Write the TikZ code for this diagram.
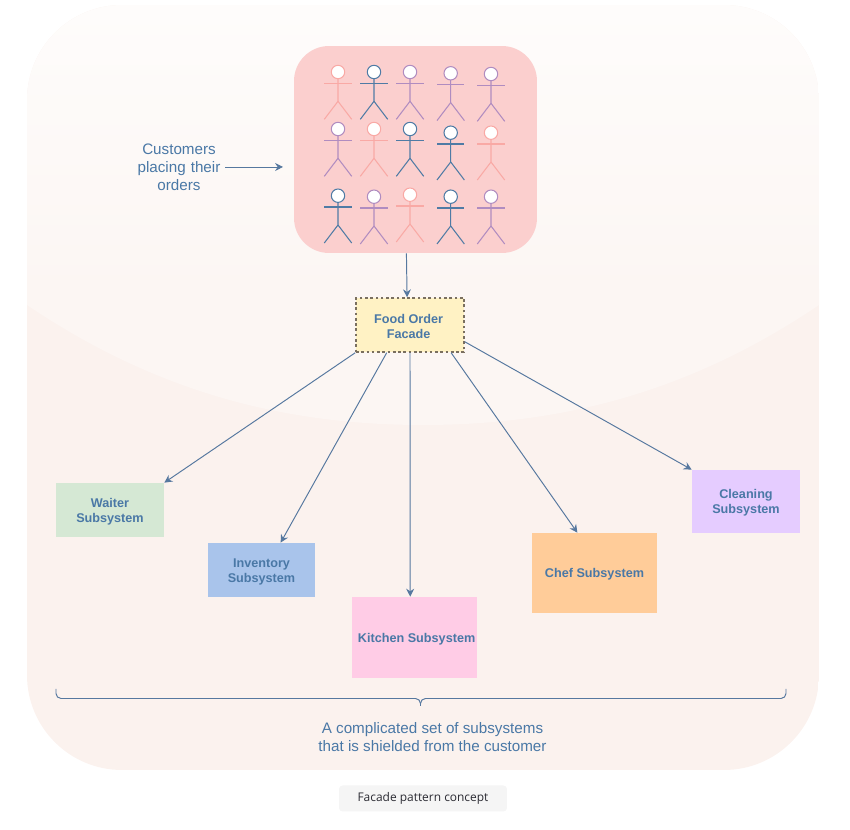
\documentclass[tikz,border=0pt]{standalone}
\usepackage{fontspec}
\setmainfont{Liberation Sans}
\newfontfamily\capfont{Open Sans}
\usetikzlibrary{arrows.meta,calc}
\definecolor{inkblue}{HTML}{4A78A6}
\definecolor{edgeblue}{HTML}{56789F}
\definecolor{salmon}{HTML}{F9A9A5}
\definecolor{steel}{HTML}{4F7BA5}
\definecolor{lilac}{HTML}{B08CC0}
\definecolor{backlow}{HTML}{FBF2EE}
\definecolor{backmid}{HTML}{FCF6F3}
\definecolor{backtop}{HTML}{FEFCFB}
\definecolor{crowdfill}{HTML}{FBCFCE}
\definecolor{facadefill}{HTML}{FFF2C4}
\definecolor{facadeedge}{HTML}{7A6F5F}
\definecolor{waiterfill}{HTML}{D5E8D4}
\definecolor{inventoryfill}{HTML}{A9C4EB}
\definecolor{kitchenfill}{HTML}{FFCCE6}
\definecolor{cheffill}{HTML}{FFCC99}
\definecolor{cleaningfill}{HTML}{E5CCFF}
\definecolor{capfill}{HTML}{F5F5F5}
\definecolor{capink}{HTML}{2B2B33}
\tikzset{
    flow/.style={-{Stealth[length=4.5pt,width=4.5pt]}, edgeblue, line width=0.55pt},
    subsys/.style={inner sep=0pt},
    boxtext/.style={inner sep=0pt, align=center, text=inkblue, yshift=-0.9pt, font=\fontsize{7.2}{8.5}\selectfont\bfseries},
    note/.style={inner sep=0pt, align=center, text=inkblue, font=\fontsize{8.65}{10.2}\selectfont},
    person/.pic={
        \draw[line width=0.6pt] (-13.7,11.3) -- (13.7,11.3);
        \draw[line width=0.6pt] (0,6.7) -- (0,29.3) -- (-13.7,47.3);
        \draw[line width=0.6pt] (0,29.3) -- (13.7,47.3);
        \draw[fill=white, line width=0.6pt] (0,0) circle (6.7);
    }
}
\begin{document}
\begin{tikzpicture}[x=0.02cm, y=-0.02cm]
    \useasboundingbox (0,0) rectangle (850,830);
    % Backdrop
    \begin{scope}
        \clip[rounded corners=1.9cm] (27,5) rectangle (819,770);
        \fill[backlow] (27,5) rectangle (819,770);
        \fill[backmid] (27,289) -- (27,305) .. controls (160,395) and (290,425) .. (423,425)
            .. controls (556,425) and (686,395) .. (819,305) -- (819,289) -- cycle;
        \foreach \band in {0,...,28}
            \pgfmathsetmacro{\mixval}{100-\band*100/28}
            \fill[backtop!\mixval!backmid] (27,5+\band*10) rectangle (819,15+\band*10);
    \end{scope}
    % Customers
    \node[fill=crowdfill, rounded corners=0.7cm, minimum width=4.86cm, minimum height=4.14cm] (crowd) at (415.5,149.5) {};
    \foreach \hx/\hy/\hc in {338/72/salmon, 374/72/steel, 410/72/lilac, 450.7/73.3/lilac, 491/74/lilac,
                             338/129/lilac, 374/129/salmon, 410/129/steel, 450.7/132.7/steel, 491/132.7/salmon,
                             338/195.7/steel, 374/196.7/lilac, 410/194.7/salmon, 450.7/196.7/steel, 491/196.7/lilac}
        \pic[draw=\hc] at (\hx,\hy) {person};
    \node[note, text width=1.84cm] (placing) at (179,167) {Customers\\placing their\\orders};
    \coordinate (crowdin) at (283,167);
    \draw[flow] (placing.east) -- (crowdin);
    % Facade
    \node[subsys, fill=facadefill, draw=facadeedge, line width=0.85pt, dash pattern=on 1.5pt off 1.5pt,
          minimum width=2.16cm, minimum height=1.08cm,
          label={[boxtext, xshift=-0.8pt, yshift=0.3pt]center:{Food Order\\Facade}}] (facade) at (410,325) {};
    \draw[flow] (crowd.265.7) -- (facade.96.3);
    % Subsystems
    \node[subsys, fill=waiterfill, minimum width=2.16cm, minimum height=1.08cm,
          label={[boxtext]center:{Waiter\\Subsystem}}] (waiter) at (110,510) {};
    \node[subsys, fill=inventoryfill, minimum width=2.14cm, minimum height=1.08cm,
          label={[boxtext]center:{Inventory\\Subsystem}}] (inventory) at (261.5,570) {};
    \node[subsys, fill=kitchenfill, minimum width=2.5cm, minimum height=1.62cm,
          label={[boxtext, xshift=1.2pt]center:{Kitchen Subsystem}}] (kitchen) at (414.5,637.5) {};
    \node[subsys, fill=cheffill, minimum width=2.5cm, minimum height=1.6cm,
          label={[boxtext]center:{Chef Subsystem}}] (chef) at (594.5,573) {};
    \node[subsys, fill=cleaningfill, minimum width=2.16cm, minimum height=1.26cm,
          label={[boxtext]center:{Cleaning\\Subsystem}}] (cleaning) at (746,501.5) {};
    \draw[flow] (facade.south west) -- (waiter.north east);
    \draw[flow] (facade.230.8) -- (inventory.55.6);
    \draw[flow] (facade.south) -- (kitchen.96.3);
    \draw[flow] (facade.326) -- (chef.113.6);
    \draw[flow] (facade.-17.5) -- (cleaning.north west);
    % Brace
    \coordinate (bracel) at (56,689);
    \coordinate (bracer) at (786,689);
    \coordinate (bracemid) at (420.5,698.5);
    \coordinate (bracetip) at (420.5,706);
    \draw[edgeblue, line width=0.55pt, rounded corners=0.1cm] (bracel) |- (bracemid) -- (bracetip);
    \draw[edgeblue, line width=0.55pt, rounded corners=0.1cm] (bracer) |- (bracemid) -- (bracetip);
    \node[note] (shielded) at (432.5,737) {A complicated set of subsystems\\that is shielded from the customer};
    % Caption
    \node[fill=capfill, rounded corners=2pt, minimum width=3.36cm, minimum height=0.52cm, inner sep=0pt,
          font=\capfont\fontsize{6.8}{8}\selectfont, text=capink] (caption) at (423,798.5) {Facade pattern concept};
\end{tikzpicture}
\end{document}
